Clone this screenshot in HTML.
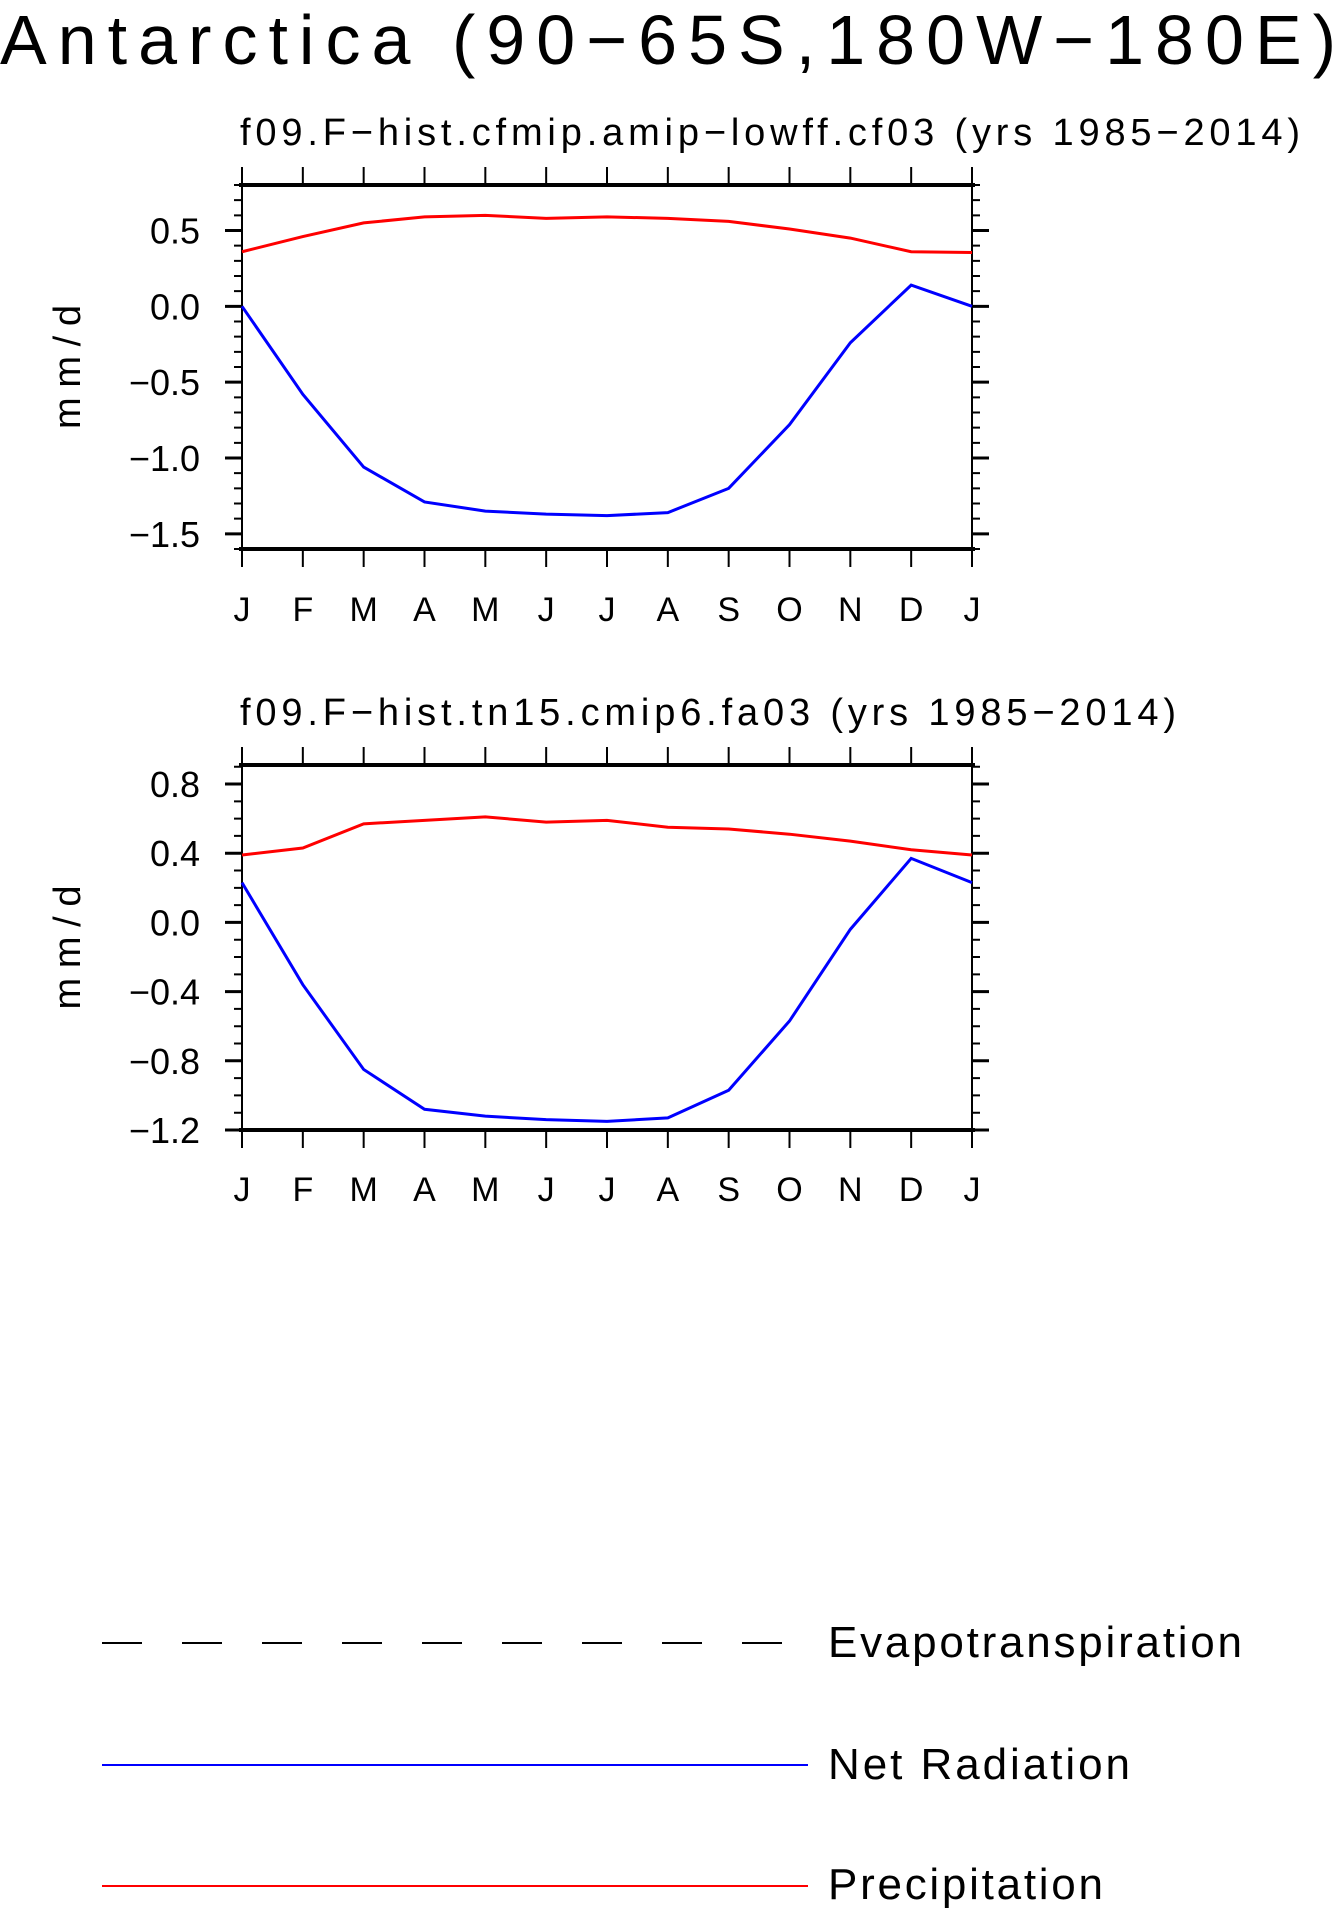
<!DOCTYPE html>
<html><head><meta charset="utf-8"><style>
html,body{margin:0;padding:0;background:#fff;}
svg{display:block;font-family:"Liberation Sans",sans-serif;}
</style></head><body>
<svg id="chart" width="1342" height="1910" viewBox="0 0 1342 1910" xmlns="http://www.w3.org/2000/svg">
<text x="0" y="64" font-size="70" fill="#000" textLength="1336" lengthAdjust="spacing">Antarctica (90−65S,180W−180E)</text>
<g id="p1"></g>
<g id="p2"></g>
<g>
<line x1="102" y1="1643" x2="787" y2="1643" stroke="#000" stroke-width="2" stroke-dasharray="40,40"/>
<text x="828" y="1657" font-size="44" textLength="414" lengthAdjust="spacing">Evapotranspiration</text>
<line x1="102" y1="1765" x2="808" y2="1765" stroke="#0000ff" stroke-width="2"/>
<text x="828" y="1779" font-size="44" textLength="302" lengthAdjust="spacing">Net Radiation</text>
<line x1="102" y1="1886" x2="808" y2="1886" stroke="#ff0000" stroke-width="2"/>
<text x="828" y="1899" font-size="44" textLength="275" lengthAdjust="spacing">Precipitation</text>
</g>
</svg>
<script>
const months = ["J","F","M","A","M","J","J","A","S","O","N","D","J"];
const precip1 = [0.36,0.46,0.55,0.59,0.60,0.58,0.59,0.58,0.56,0.51,0.45,0.36,0.355];
const netrad1 = [0.0,-0.58,-1.06,-1.29,-1.35,-1.37,-1.38,-1.36,-1.20,-0.78,-0.24,0.14,0.0];
const precip2 = [0.39,0.43,0.57,0.59,0.61,0.58,0.59,0.55,0.54,0.51,0.47,0.42,0.39];
const netrad2 = [0.23,-0.36,-0.85,-1.08,-1.12,-1.14,-1.15,-1.13,-0.97,-0.57,-0.04,0.37,0.23];
const ticks1 = [0.5,0.0,-0.5,-1.0,-1.5];
const ticks2 = [0.8,0.4,0.0,-0.4,-0.8,-1.2];
const NS="http://www.w3.org/2000/svg";
function mk(parent,tag,attrs,txt){const e=document.createElementNS(NS,tag);for(const k in attrs)e.setAttribute(k,attrs[k]);if(txt!==undefined)e.textContent=txt;parent.appendChild(e);return e;}
function panel(g,cfg){
  const L=242,R=972,T=cfg.top,B=cfg.bottom;
  const x=i=>L+(R-L)*i/(months.length-1);
  const y=v=>T+(cfg.ymax-v)/(cfg.ymax-cfg.ymin)*(B-T);
  let t=mk(g,'text',{x:240,y:T-40,'font-size':38,textLength:cfg.titleLen,lengthAdjust:'spacing'});t.textContent=cfg.title;
  
  
  let yt=mk(g,'text',{transform:`translate(80,${(T+B)/2}) rotate(-90)`,'text-anchor':'middle','font-size':38,textLength:124,lengthAdjust:'spacing'},'mm/d');
  
  
  for(let v=Math.ceil(cfg.ymin*10);v<=Math.floor(cfg.ymax*10);v++){
    const yy=y(v/10);
    const mt=mk(g,'path',{d:`M${L} ${yy}H${L-8}M${R} ${yy}H${R+8}`,stroke:'#000','stroke-width':2});
    
    
  }
  cfg.ticks.forEach(v=>{
    const yy=y(v);
    const tk=mk(g,'path',{d:`M${L} ${yy}H${L-17}M${R} ${yy}H${R+17}`,stroke:'#000','stroke-width':3});
    
    
    const lb=mk(g,'text',{x:200,y:yy+13,'text-anchor':'end','font-size':36},(v<0?'−':'')+Math.abs(v).toFixed(1));
    
    
  });
  months.forEach((m,i)=>{
    const xx=x(i);
    const tk=mk(g,'path',{d:`M${xx} ${T}V${T-18}M${xx} ${B}V${B+18}`,stroke:'#000','stroke-width':2});
    
    
    const lb=mk(g,'text',{x:xx,y:cfg.labelY,'text-anchor':'middle','font-size':34},m);
    
    
  });
  const fr=mk(g,'rect',{x:L,y:T,width:R-L,height:B-T,fill:'none',stroke:'#000','stroke-width':2});
  
  
  const tb=mk(g,'path',{d:`M${L-3} ${T}H${R+3}M${L-3} ${B}H${R+3}`,stroke:'#000','stroke-width':4});
  
  
  const pl=(arr,col,nm)=>{
    const p=mk(g,'polyline',{points:arr.map((v,i)=>x(i)+','+y(v)).join(' '),fill:'none',stroke:col,'stroke-width':3});
    
    
  };
  pl(cfg.precip,'#ff0000','precipitation-line');
  pl(cfg.net,'#0000ff','net-radiation-line');
}
panel(document.getElementById('p1'),{top:185,bottom:549,ymin:-1.6,ymax:0.8,ticks:ticks1,precip:precip1,net:netrad1,labelY:621,titleLen:1060,title:'f09.F−hist.cfmip.amip−lowff.cf03 (yrs 1985−2014)'});
panel(document.getElementById('p2'),{top:765,bottom:1130,ymin:-1.2,ymax:0.91,ticks:ticks2,precip:precip2,net:netrad2,labelY:1201,titleLen:936,title:'f09.F−hist.tn15.cmip6.fa03 (yrs 1985−2014)'});
</script>
</body></html>
